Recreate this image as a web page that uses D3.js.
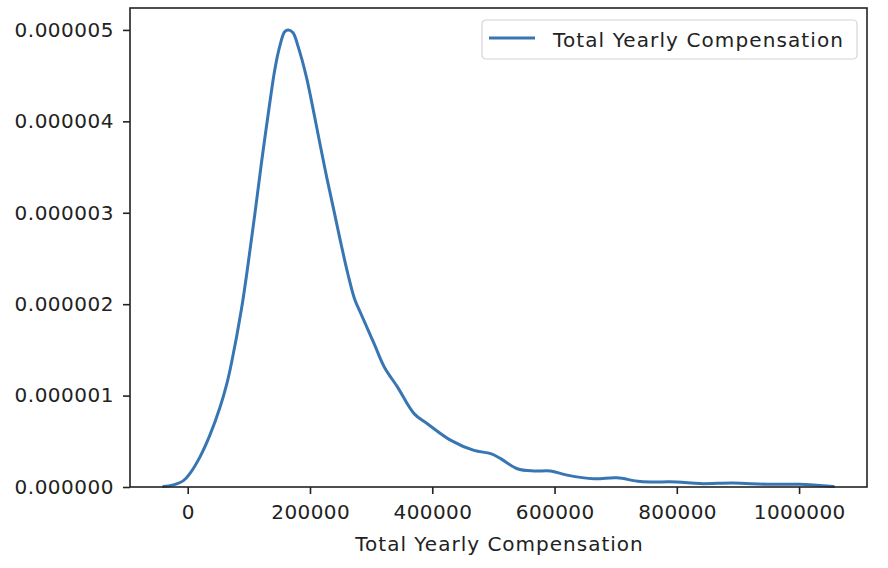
<!DOCTYPE html>
<html>
<head>
<meta charset="utf-8">
<script src="https://cdn.jsdelivr.net/npm/d3@7/dist/d3.min.js"></script>
<style>
  body { margin: 0; background: #fff; }
  svg text { font-family: "DejaVu Sans", sans-serif; fill: #222; }
</style>
</head>
<body>
<div id="chart"></div>
<script>
// KDE curve: compensation in dollars, density in units of 1e-6
const compensation = [-39600, -25000, -7000, 3800, 20100, 36400, 52700, 63600, 71700, 88000,
  99000, 109700, 120700, 134200, 142300, 150500, 158600, 164700, 172300, 180500,
  194000, 207600, 223900, 240200, 251100, 262000, 272800, 283700, 305400, 321700,
  343500, 370600, 392500, 430500, 468400, 495700, 511900, 539200, 566200, 593500,
  620700, 664100, 702200, 740200, 800100, 838100, 892400, 946800, 1000800, 1056300];
const densityMicro = [0.005, 0.02, 0.07, 0.15, 0.33, 0.57, 0.87, 1.12, 1.36, 1.95,
  2.45, 2.98, 3.55, 4.2, 4.56, 4.82, 4.98, 5.0, 4.97, 4.82,
  4.49, 4.05, 3.5, 2.99, 2.65, 2.33, 2.06, 1.89, 1.56, 1.31,
  1.09, 0.8, 0.69, 0.51, 0.4, 0.365, 0.31, 0.2, 0.175, 0.175,
  0.13, 0.09, 0.1, 0.06, 0.055, 0.037, 0.044, 0.03, 0.03, 0.005];
const xTicks = [0, 200000, 400000, 600000, 800000, 1000000];
const yTicks = [0, 1e-6, 2e-6, 3e-6, 4e-6, 5e-6];
const seriesName = "Total Yearly Compensation";
const xLabel = "Total Yearly Compensation";

const density = densityMicro.map(d => d * 1e-6);
const points = compensation.map((c, i) => ({x: c, y: density[i]}));

const width = 888, height = 568;
const margin = {top: 8, right: 21, bottom: 81, left: 130};
const lineColor = "#3776b3";

const svg = d3.select("#chart").append("svg")
  .attr("width", width)
  .attr("height", height);

// matplotlib style autoscale: 5% padding on x, y starts at zero
const xExt = d3.extent(compensation);
const xPad = (xExt[1] - xExt[0]) * 0.05;
const x = d3.scaleLinear()
  .domain([xExt[0] - xPad, xExt[1] + xPad])
  .range([margin.left, width - margin.right]);

const y = d3.scaleLinear()
  .domain([0, d3.max(density) * 1.048])
  .range([height - margin.bottom, margin.top]);

// x axis
const xAxis = svg.append("g")
  .attr("transform", `translate(0,${height - margin.bottom})`)
  .call(d3.axisBottom(x).tickValues(xTicks).tickFormat(d3.format("d"))
    .tickSizeInner(7).tickSizeOuter(0).tickPadding(11));
xAxis.select(".domain").remove();
xAxis.selectAll("line").attr("stroke", "#222").attr("stroke-width", 1.6);
xAxis.selectAll("text").attr("font-size", 20).attr("fill", "#222")
  .attr("letter-spacing", 0.4).attr("dx", 0.2);

// y axis
const yAxis = svg.append("g")
  .attr("transform", `translate(${margin.left},0)`)
  .call(d3.axisLeft(y).tickValues(yTicks).tickFormat(d3.format(".6f"))
    .tickSizeInner(7).tickSizeOuter(0).tickPadding(9));
yAxis.select(".domain").remove();
yAxis.selectAll("line").attr("stroke", "#222").attr("stroke-width", 1.6);
yAxis.selectAll("text").attr("font-size", 20).attr("fill", "#222")
  .attr("letter-spacing", 0.5);

// the curve
const line = d3.line()
  .x(d => x(d.x))
  .y(d => y(d.y))
  .curve(d3.curveCatmullRom.alpha(0.5));

svg.append("path")
  .datum(points)
  .attr("fill", "none")
  .attr("stroke", lineColor)
  .attr("stroke-width", 3)
  .attr("stroke-linejoin", "round")
  .attr("stroke-linecap", "round")
  .attr("d", line);

// frame around the axes
svg.append("rect")
  .attr("x", margin.left)
  .attr("y", margin.top)
  .attr("width", width - margin.left - margin.right)
  .attr("height", height - margin.top - margin.bottom)
  .attr("fill", "none")
  .attr("stroke", "#222")
  .attr("stroke-width", 1.6);

// x axis label
svg.append("text")
  .attr("x", (margin.left + width - margin.right) / 2 + 1)
  .attr("y", 551)
  .attr("text-anchor", "middle")
  .attr("font-size", 20)
  .attr("letter-spacing", 1)
  .text(xLabel);

// legend, upper right
const legend = svg.append("g")
  .attr("transform", `translate(${width - margin.right - 385},${margin.top + 12})`);
legend.append("rect")
  .attr("width", 375)
  .attr("height", 39)
  .attr("rx", 4)
  .attr("fill", "#fff")
  .attr("stroke", "#d4d4d4")
  .attr("stroke-width", 1.2);
legend.append("line")
  .attr("x1", 7).attr("x2", 53)
  .attr("y1", 18).attr("y2", 18)
  .attr("stroke", lineColor)
  .attr("stroke-width", 3);
legend.append("text")
  .attr("x", 71)
  .attr("y", 26.5)
  .attr("font-size", 20)
  .attr("letter-spacing", 1.1)
  .text(seriesName);
</script>
</body>
</html>
